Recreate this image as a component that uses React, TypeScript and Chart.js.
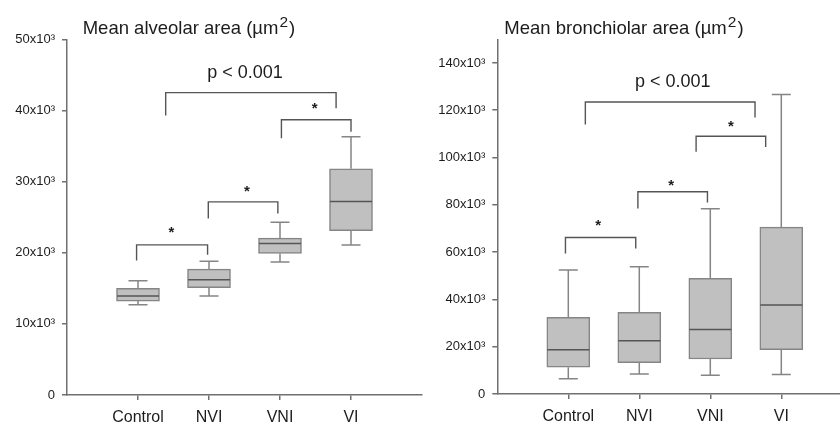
import React, { useEffect, useRef } from "react";
import { Chart, registerables } from "chart.js";

Chart.register(...registerables);

const categories = ["Control", "NVI", "VNI", "VI"];

// Mean alveolar area (µm²)
const alveolarMin = [12700, 13900, 18700, 21100];
const alveolarQ1 = [13200, 15100, 19900, 23100];
const alveolarMedian = [13900, 16200, 21300, 27200];
const alveolarQ3 = [15000, 17700, 22050, 31800];
const alveolarMax = [16050, 18800, 24300, 36300];
const alveolarTicks = [0, 10000, 20000, 30000, 40000, 50000];

// Mean bronchiolar area (µm²)
const bronchMin = [6500, 8450, 7900, 8200];
const bronchQ1 = [11300, 13200, 14800, 18700];
const bronchMedian = [18700, 22500, 27300, 37600];
const bronchQ3 = [32400, 34500, 48900, 70600];
const bronchMax = [52400, 53800, 78300, 126700];
const bronchTicks = [0, 20000, 40000, 60000, 80000, 100000, 120000, 140000];

// Significance brackets: [fromX, toX, barY, leftLegEndY, rightLegEndY]
const alveolarBrackets = [
  [0.98, 1.98, 21100, 18900, 19700],
  [1.99, 2.97, 27150, 24800, 25500],
  [3.02, 4.0, 38700, 36100, 37000],
  [1.39, 3.79, 42500, 39300, 40300],
];
// Labels: [text, x, y]
const alveolarLabels: [string, number, number][] = [
  ["*", 1.47, 23200],
  ["*", 2.535, 29000],
  ["*", 3.49, 40600],
  ["p < 0.001", 2.507, 45300],
];

const bronchBrackets = [
  [0.96, 1.95, 66200, 59400, 61500],
  [1.98, 2.96, 85500, 78400, 81000],
  [2.8, 3.78, 109000, 102400, 104500],
  [1.24, 3.63, 123500, 114000, 116900],
];
const bronchLabels: [string, number, number][] = [
  ["*", 1.42, 72200],
  ["*", 2.45, 89400],
  ["*", 3.29, 114100],
  ["p < 0.001", 2.47, 131900],
];

const FONT = '"Liberation Sans", Arial, Helvetica, sans-serif';
const TEXT = "#1c1c1c";
const AXIS = "#707070";

type PanelProps = {
  left: number;
  width: number;
  yAxisWidth: number;
  xAxisHeight: number;
  padTop: number;
  padRight: number;
  yMax: number;
  ticks: number[];
  mins: number[];
  q1: number[];
  medians: number[];
  q3: number[];
  maxs: number[];
  brackets: number[][];
  labels: [string, number, number][];
  title: string;
  titleOffset: number;
};

function Panel(p: PanelProps) {
  const ref = useRef<HTMLCanvasElement | null>(null);
  useEffect(() => {
    if (!ref.current) return;
    const boxPlugin = {
      id: "boxExtras",
      afterDatasetsDraw(chart: any) {
        const { ctx, scales, chartArea } = chart;
        const x = scales.x;
        const y = scales.y;
        ctx.save();
        // whiskers, caps, medians
        for (let i = 0; i < categories.length; i++) {
          const cx = x.getPixelForValue(i + 1);
          ctx.strokeStyle = "#858585";
          ctx.lineWidth = 1.5;
          ctx.beginPath();
          ctx.moveTo(cx, y.getPixelForValue(p.q3[i]));
          ctx.lineTo(cx, y.getPixelForValue(p.maxs[i]));
          ctx.moveTo(cx, y.getPixelForValue(p.q1[i]));
          ctx.lineTo(cx, y.getPixelForValue(p.mins[i]));
          ctx.moveTo(cx - 9.5, y.getPixelForValue(p.maxs[i]));
          ctx.lineTo(cx + 9.5, y.getPixelForValue(p.maxs[i]));
          ctx.moveTo(cx - 9.5, y.getPixelForValue(p.mins[i]));
          ctx.lineTo(cx + 9.5, y.getPixelForValue(p.mins[i]));
          ctx.stroke();
          ctx.strokeStyle = "#555555";
          ctx.lineWidth = 1.5;
          ctx.beginPath();
          ctx.moveTo(cx - 21, y.getPixelForValue(p.medians[i]));
          ctx.lineTo(cx + 21, y.getPixelForValue(p.medians[i]));
          ctx.stroke();
        }
        // brackets
        ctx.strokeStyle = "#555555";
        ctx.lineWidth = 1.4;
        for (const b of p.brackets) {
          const x1 = x.getPixelForValue(b[0]);
          const x2 = x.getPixelForValue(b[1]);
          ctx.beginPath();
          ctx.moveTo(x1, y.getPixelForValue(b[3]));
          ctx.lineTo(x1, y.getPixelForValue(b[2]));
          ctx.lineTo(x2, y.getPixelForValue(b[2]));
          ctx.lineTo(x2, y.getPixelForValue(b[4]));
          ctx.stroke();
        }
        // labels
        ctx.fillStyle = TEXT;
        ctx.textAlign = "center";
        ctx.textBaseline = "middle";
        for (const [t, lx, ly] of p.labels) {
          const px = x.getPixelForValue(lx);
          const py = y.getPixelForValue(ly);
          if (t === "*") {
            ctx.font = `bold 15px ${FONT}`;
            ctx.fillText(t, px, py + 3);
          } else {
            ctx.font = `18px ${FONT}`;
            ctx.fillText(t, px, py);
          }
        }
        // title
        ctx.textAlign = "left";
        ctx.textBaseline = "alphabetic";
        const tx = chartArea.left + p.titleOffset;
        ctx.font = `18.5px ${FONT}`;
        ctx.fillText(p.title, tx, 34);
        const w = ctx.measureText(p.title).width;
        ctx.font = `15.5px ${FONT}`;
        ctx.fillText("2", tx + w + 1, 27);
        const w2 = ctx.measureText("2").width;
        ctx.font = `18.5px ${FONT}`;
        ctx.fillText(")", tx + w + w2 + 2, 34);
        ctx.restore();
      },
    };

    const chart = new Chart(ref.current, {
      type: "bar",
      data: {
        datasets: [
          {
            data: categories.map((c, i) => ({ x: i + 1, y: [p.q1[i], p.q3[i]] })) as any,
            backgroundColor: "#c0c0c0",
            borderColor: "#858585",
            borderWidth: 1.5,
            borderSkipped: false,
            barThickness: 43,
          },
        ],
      },
      options: {
        animation: false,
        responsive: false,
        devicePixelRatio: 1,
        layout: { padding: { top: p.padTop, right: p.padRight, left: 0, bottom: 0 } },
        plugins: { legend: { display: false }, tooltip: { enabled: false }, title: { display: false } },
        scales: {
          x: {
            type: "linear",
            min: 0,
            max: 5,
            offset: false,
            afterBuildTicks: (s: any) => {
              s.ticks = [1, 2, 3, 4].map((v) => ({ value: v }));
            },
            afterFit: (s: any) => {
              s.height = p.xAxisHeight;
            },
            ticks: {
              callback: (v: any) => categories[Number(v) - 1] ?? "",
              font: { family: FONT, size: 16 },
              color: TEXT,
              padding: 8,
              maxRotation: 0,
              autoSkip: false,
            },
            grid: {
              offset: false,
              drawOnChartArea: false,
              drawTicks: true,
              tickLength: 5,
              color: AXIS,
              lineWidth: 1.5,
            },
            border: { color: AXIS, width: 1.5 },
          },
          y: {
            type: "linear",
            min: 0,
            max: p.yMax,
            afterBuildTicks: (s: any) => {
              s.ticks = p.ticks.map((v) => ({ value: v }));
            },
            afterFit: (s: any) => {
              s.width = p.yAxisWidth;
            },
            ticks: {
              callback: (v: any) => (Number(v) === 0 ? "0" : `${Number(v) / 1000}x10³`),
              font: { family: FONT, size: 13 },
              color: TEXT,
              padding: 7,
            },
            grid: { drawOnChartArea: false, drawTicks: true, tickLength: 5, color: AXIS, lineWidth: 1.5 },
            border: { color: AXIS, width: 1.5 },
          },
        },
      },
      plugins: [boxPlugin],
    } as any);
    return () => chart.destroy();
  }, []);
  return (
    <canvas
      ref={ref}
      width={p.width}
      height={424}
      style={{ position: "absolute", left: p.left, top: 0, width: p.width, height: 424 }}
    />
  );
}

export default function App() {
  return (
    <div
      style={{
        position: "fixed",
        left: 0,
        top: 0,
        width: 840,
        height: 424,
        overflow: "hidden",
        background: "#ffffff",
      }}
    >
      <Panel
        left={0}
        width={425}
        yAxisWidth={67}
        xAxisHeight={29}
        padTop={39.3}
        padRight={3}
        yMax={50000}
        ticks={alveolarTicks}
        mins={alveolarMin}
        q1={alveolarQ1}
        medians={alveolarMedian}
        q3={alveolarQ3}
        maxs={alveolarMax}
        brackets={alveolarBrackets}
        labels={alveolarLabels}
        title="Mean alveolar area (µm"
        titleOffset={15.7}
      />
      <Panel
        left={425}
        width={430}
        yAxisWidth={72.3}
        xAxisHeight={30}
        padTop={39.3}
        padRight={2.7}
        yMax={150000}
        ticks={bronchTicks}
        mins={bronchMin}
        q1={bronchQ1}
        medians={bronchMedian}
        q3={bronchQ3}
        maxs={bronchMax}
        brackets={bronchBrackets}
        labels={bronchLabels}
        title="Mean bronchiolar area (µm"
        titleOffset={7}
      />
    </div>
  );
}
